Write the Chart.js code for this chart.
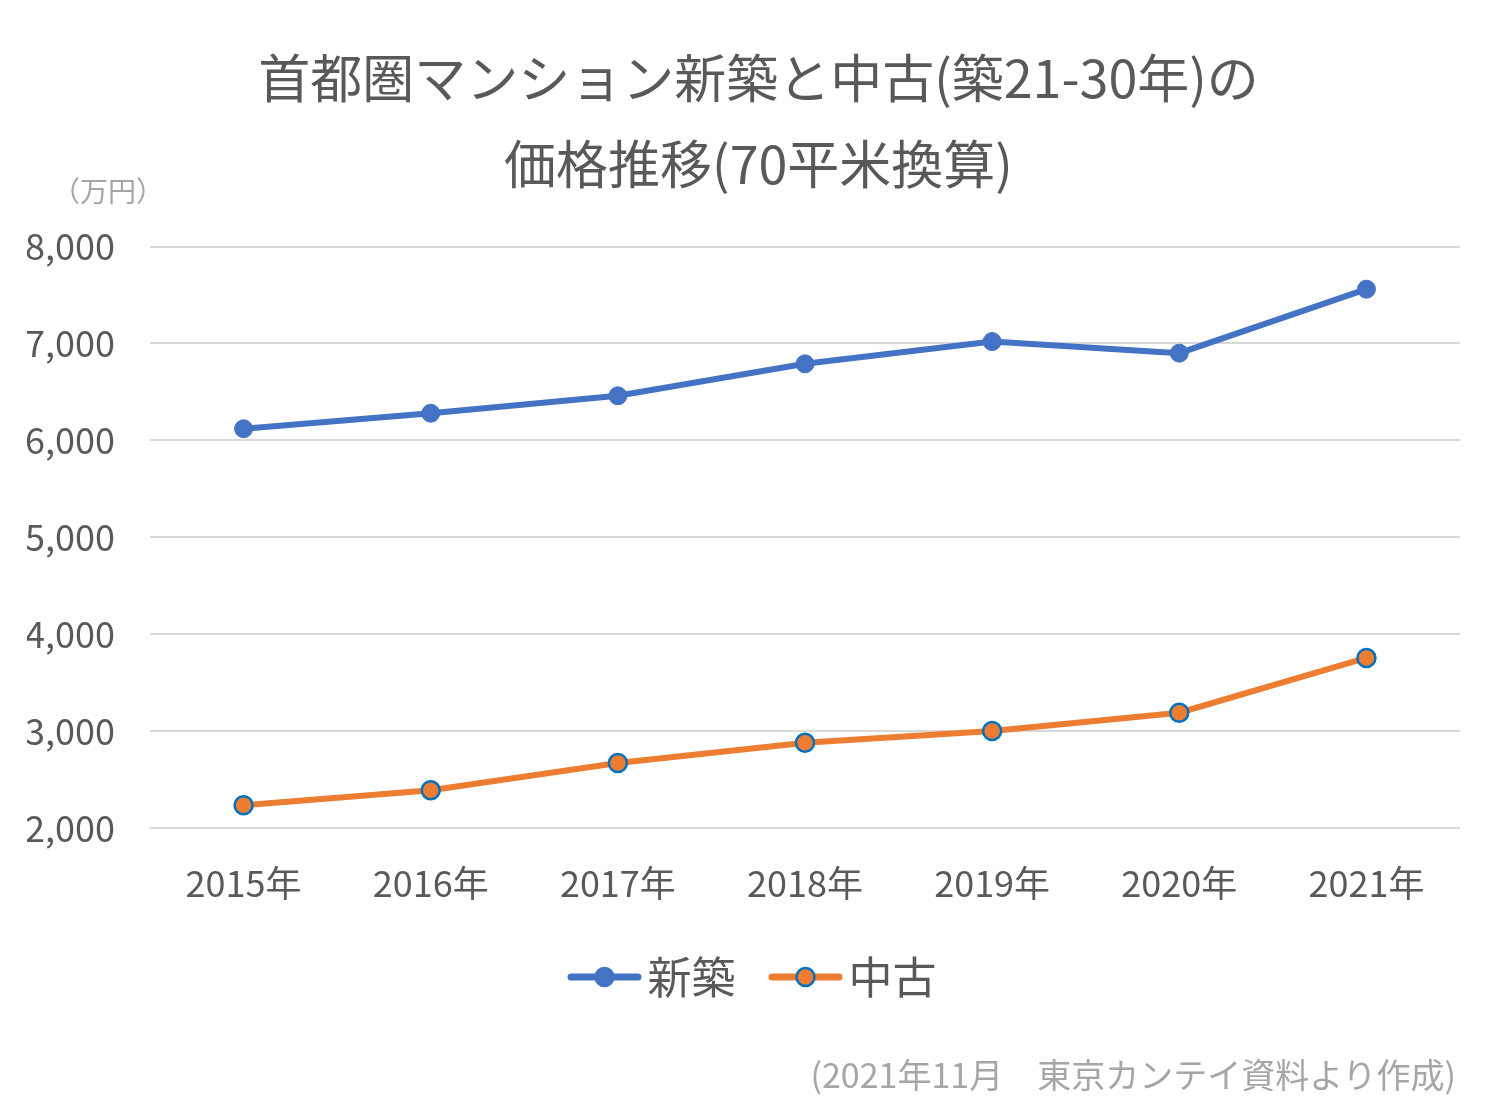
<!DOCTYPE html>
<html>
<head>
<meta charset="utf-8">
<script src="https://cdn.jsdelivr.net/npm/chart.js@4.4.0/dist/chart.umd.min.js"></script>
<style>
    html, body { margin: 0; padding: 0; background: #fff; }
    #wrap { position: relative; width: 1500px; height: 1114px; }
    .note {
        position: absolute;
        font-family: "Noto Sans CJK JP", sans-serif;
        color: #a6a6a6;
        white-space: nowrap;
    }
</style>
</head>
<body>
<div id="wrap">
    <canvas id="priceChart" width="1500" height="1114"></canvas>
    <div class="note" style="left:52px; top:170px; font-size:28px;">（万円）</div>
    <div class="note" style="right:44px; top:1049px; font-size:34px;">(2021年11月　東京カンテイ資料より作成)</div>
</div>
<script>
const years = ['2015年', '2016年', '2017年', '2018年', '2019年', '2020年', '2021年'];
const shinchiku = [6120, 6280, 6460, 6790, 7020, 6900, 7560];
const chuko = [2235, 2390, 2670, 2880, 3000, 3190, 3755];
const seriesNames = ['新築', '中古'];
const titleLines = ['首都圏マンション新築と中古(築21-30年)の', '価格推移(70平米換算)'];

const textColor = '#595959';
const fontFamily = '"Noto Sans CJK JP", sans-serif';

// legend marker: short line with a dot in the middle
// (drawn a bit to the right of the image centre so it sits close to the text)
function legendMarker(lineColor, fill, border) {
    const c = document.createElement('canvas');
    c.width = 100;
    c.height = 24;
    const ctx = c.getContext('2d');
    ctx.strokeStyle = lineColor;
    ctx.lineWidth = 7;
    ctx.lineCap = 'round';
    ctx.beginPath();
    ctx.moveTo(18, 12);
    ctx.lineTo(85, 12);
    ctx.stroke();
    ctx.beginPath();
    ctx.arc(51.5, 12, 9, 0, Math.PI * 2);
    ctx.fillStyle = fill;
    ctx.fill();
    ctx.lineWidth = 2.5;
    ctx.strokeStyle = border;
    ctx.stroke();
    return c;
}

const markers = [
    legendMarker('#4472C4', '#4472C4', '#4472C4'),
    legendMarker('#ED7D31', '#ED7D31', '#0070C0')
];

new Chart(document.getElementById('priceChart'), {
    type: 'line',
    data: {
        labels: years,
        datasets: [
            {
                label: seriesNames[0],
                data: shinchiku,
                borderColor: '#4472C4',
                backgroundColor: '#4472C4',
                pointBackgroundColor: '#4472C4',
                pointBorderColor: '#4472C4',
                borderWidth: 6,
                pointRadius: 9,
                pointBorderWidth: 1,
                tension: 0
            },
            {
                label: seriesNames[1],
                data: chuko,
                borderColor: '#ED7D31',
                backgroundColor: '#ED7D31',
                pointBackgroundColor: '#ED7D31',
                pointBorderColor: '#0070C0',
                borderWidth: 6,
                pointRadius: 9,
                pointBorderWidth: 2.5,
                tension: 0
            }
        ]
    },
    options: {
        responsive: false,
        animation: false,
        layout: { padding: { left: 27, right: 10, top: 0, bottom: 105 } },
        plugins: {
            title: {
                display: true,
                text: titleLines,
                color: textColor,
                font: { family: fontFamily, size: 52, weight: 'normal', lineHeight: 1.64 },
                padding: { top: 36, bottom: 40 }
            },
            legend: {
                position: 'bottom',
                labels: {
                    usePointStyle: true,
                    pointStyleWidth: 45,
                    padding: 46,
                    color: textColor,
                    font: { family: fontFamily, size: 44 },
                    generateLabels: (chart) => chart.data.datasets.map((ds, i) => ({
                        text: ds.label,
                        pointStyle: markers[i],
                        fontColor: textColor,
                        lineWidth: 0,
                        strokeStyle: 'transparent',
                        fillStyle: 'transparent',
                        hidden: false,
                        datasetIndex: i
                    }))
                }
            },
            tooltip: { enabled: false }
        },
        scales: {
            x: {
                offset: true,
                grid: { display: false },
                border: { display: false },
                ticks: {
                    color: textColor,
                    padding: 26,
                    font: { family: fontFamily, size: 36 }
                },
                afterFit: (s) => { s.height = 81; }
            },
            y: {
                min: 2000,
                max: 8000,
                grid: { color: '#d9d9d9', lineWidth: 2, drawTicks: false },
                border: { display: false },
                ticks: {
                    stepSize: 1000,
                    color: textColor,
                    padding: 35,
                    font: { family: fontFamily, size: 36 },
                    callback: (v) => v.toLocaleString('en-US')
                },
                afterFit: (s) => { s.width = 123; }
            },
            // empty right axis, only keeps the plot off the right edge
            yRight: {
                position: 'right',
                min: 2000,
                max: 8000,
                grid: { display: false },
                border: { display: false },
                ticks: { display: false },
                afterFit: (s) => { s.width = 30; }
            }
        }
    }
});
</script>
</body>
</html>
